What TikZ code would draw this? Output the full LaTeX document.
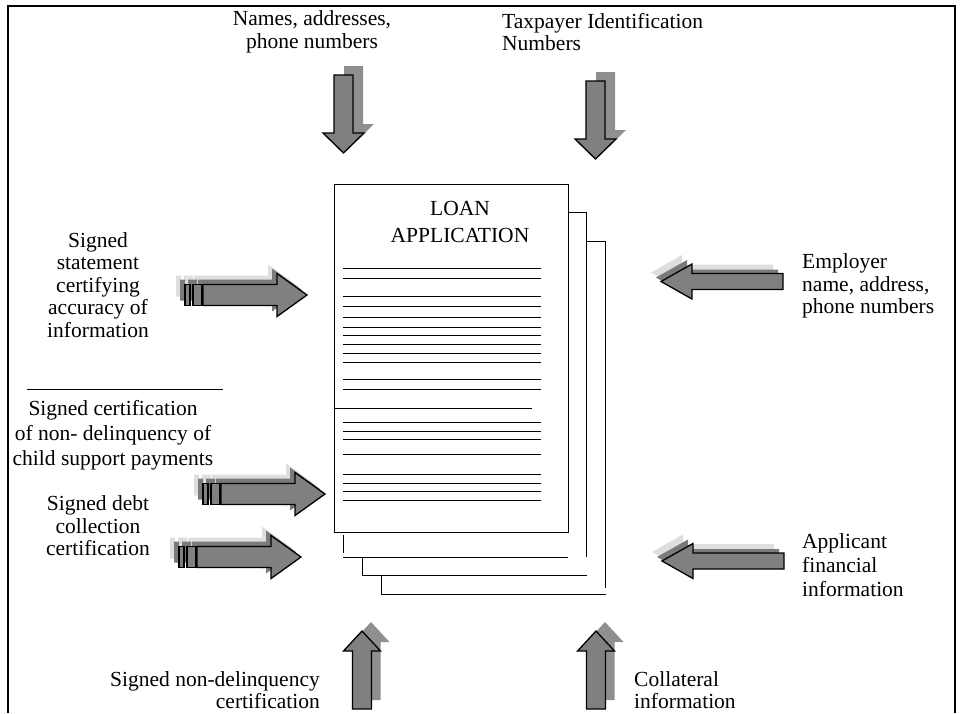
\documentclass[tikz,border=0pt]{standalone}
\usepackage{fontspec}
\setmainfont{Liberation Serif}
\begin{document}
\begin{tikzpicture}[x=1pt, y=-1pt, line join=miter,
    every node/.style={font=\fontsize{21.5}{22.5}\selectfont, inner sep=0pt},
    blockarrow/.style={draw=black, line width=1.3pt, fill=black!50},
    shadowdark/.style={fill=black!52},
    shadowlight/.style={fill=black!13},
    shadowvert/.style={fill=black!44},
    pageline/.style={line width=0.9pt}]
    \useasboundingbox (0,0) rectangle (961,713);
    % frame
    \draw[line width=1.2pt] (8,713) -- (8,6) -- (955,6) -- (955,713);

    % texts
    \node (names) [align=center] at (312,32) {Names, addresses,\\phone numbers};
    \node (taxpayer) [align=left, anchor=west] at (502,32) {Taxpayer Identification\\Numbers};
    \node (statement) [align=center] at (98,285) {Signed\\statement\\certifying\\accuracy of\\information};
    \node (childsupport) [align=center, font=\fontsize{21.5}{25}\selectfont] at (113,435) {Signed certification\\of non- delinquency of\\child support payments};
    \node (debt) [align=center] at (98,526) {Signed debt\\collection\\certification};
    \node (nondelinq) [align=right, anchor=east] at (320,690) {Signed non-delinquency\\certification};
    \node (employer) [align=left, anchor=west] at (802,286) {Employer\\name, address,\\phone numbers};
    \node (applicant) [align=left, anchor=west, font=\fontsize{21.5}{24}\selectfont] at (802,565) {Applicant\\financial\\information};
    \node (collateral) [align=left, anchor=west] at (634,690) {Collateral\\information};
    \draw[line width=1pt] (27,389) -- (223,389);

    % stacked pages
    \draw[pageline] (381,575) -- (381,594) -- (606,594);
    \draw[pageline] (586,241) -- (605,241) -- (605,588);
    \draw[pageline] (362,557) -- (362,575) -- (587,575);
    \draw[pageline] (568,212) -- (586,212) -- (586,557);
    \draw[pageline] (343,535) -- (343,553);
    \draw[pageline] (343,557) -- (568,557);
    \draw[pageline, fill=white] (334,184) rectangle (568,532);
    \node (title) [align=center, font=\fontsize{21.5}{27}\selectfont] at (460,222) {LOAN\\APPLICATION};
    \foreach \y in {268,278,296,306,317,327,335,344,353,362,379,389,422,431,439,454,474,483,491,500}
        \draw[pageline] (343,\y) -- (541,\y);
    \draw[pageline] (334,408) -- (532,408);

    % arrows from the top
    \foreach \x/\y in {343.5/153, 595.5/159} {
        \fill[shadowvert, shift={(\x+10,\y-9)}] (-9.5,-78) -- (9.5,-78) -- (9.5,-20) -- (20.5,-20) -- (0,0) -- (-20.5,-20) -- (-9.5,-20) -- cycle;
        \draw[blockarrow, shift={(\x,\y)}] (-9.5,-78) -- (9.5,-78) -- (9.5,-20) -- (20.5,-20) -- (0,0) -- (-20.5,-20) -- (-9.5,-20) -- cycle;
    }
    % arrows from the bottom
    \foreach \x/\y in {362/631, 596/631} {
        \fill[shadowvert, shift={(\x+9,\y-9)}] (-9.5,78) -- (9.5,78) -- (9.5,20) -- (18.5,20) -- (0,0) -- (-18.5,20) -- (-9.5,20) -- cycle;
        \draw[blockarrow, shift={(\x,\y)}] (-9.5,78) -- (9.5,78) -- (9.5,20) -- (18.5,20) -- (0,0) -- (-18.5,20) -- (-9.5,20) -- cycle;
    }
    % striped arrows from the left
    \foreach \x/\y in {307/295, 325/494, 301/557} {
        \foreach \d/\s in {9/shadowlight, 5/shadowdark} {
            \fill[\s, shift={(\x-\d,\y-\d)}] (-104,-10.5) -- (-30,-10.5) -- (-30,-21.5) -- (0,0) -- (-30,21.5) -- (-30,10.5) -- (-104,10.5) -- cycle;
            \fill[\s, shift={(\x-\d,\y-\d)}] (-122,-10.5) rectangle (-117,10.5) (-114,-10.5) rectangle (-105,10.5);
        }
        \draw[blockarrow, shift={(\x,\y)}] (-104,-10.5) -- (-30,-10.5) -- (-30,-21.5) -- (0,0) -- (-30,21.5) -- (-30,10.5) -- (-104,10.5) -- cycle;
        \draw[blockarrow, shift={(\x,\y)}] (-122,-10.5) rectangle (-117,10.5) (-114,-10.5) rectangle (-105,10.5);
    }
    % arrows from the right
    \foreach \x/\y in {661/281.5, 662/561} {
        \fill[shadowlight, shift={(\x-10,\y-9)}] (0,0) -- (31,-17.5) -- (31,-8) -- (122,-8) -- (122,8) -- (31,8) -- (31,17.5) -- cycle;
        \fill[shadowdark, shift={(\x-5,\y-4)}] (0,0) -- (31,-17.5) -- (31,-8) -- (122,-8) -- (122,8) -- (31,8) -- (31,17.5) -- cycle;
        \draw[blockarrow, shift={(\x,\y)}] (0,0) -- (31,-17.5) -- (31,-8) -- (122,-8) -- (122,8) -- (31,8) -- (31,17.5) -- cycle;
    }
\end{tikzpicture}
\end{document}
